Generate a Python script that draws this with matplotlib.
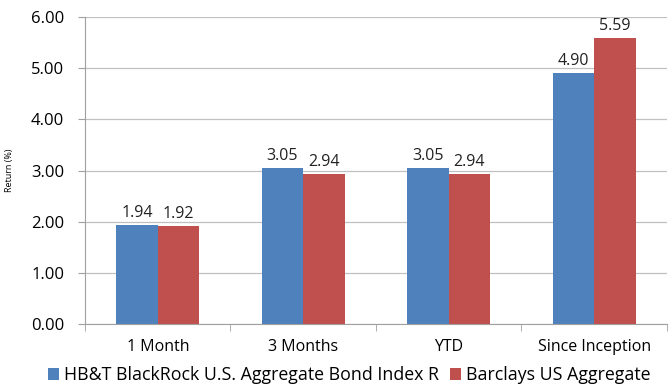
import matplotlib.pyplot as plt
import numpy as np

categories = ['1 Month', '3 Months', 'YTD', 'Since Inception']
fund = [1.94, 3.05, 3.05, 4.90]
bench = [1.92, 2.94, 2.94, 5.59]
series_names = ['HB&T BlackRock U.S. Aggregate Bond Index R', 'Barclays US Aggregate']

plt.rcParams['font.family'] = ['Open Sans', 'DejaVu Sans']

fig = plt.figure(figsize=(6.72, 3.85), dpi=100)
ax = fig.add_axes([0.1265, 0.158, 0.866, 0.798])

x = np.arange(len(categories))
w = 0.285
b1 = ax.bar(x - w / 2, fund, w, color='#4F81BD', label=series_names[0])
b2 = ax.bar(x + w / 2, bench, w, color='#C0504D', label=series_names[1])

for bars, vals in ((b1, fund), (b2, bench)):
    for r, v in zip(bars, vals):
        ax.text(r.get_x() + r.get_width() / 2, v + 0.08, f'{v:.2f}',
                ha='center', va='bottom', fontsize=11.5, color='#222222')

ax.set_xlim(-0.5, len(categories) - 0.5)
ax.set_ylim(0, 6)
ax.set_yticks(np.arange(0, 6.01, 1))
ax.set_yticklabels([f'{v:.2f}' for v in np.arange(0, 6.01, 1)], fontsize=12)
ax.yaxis.grid(True, color='#c0c0c0', lw=0.9)
ax.set_axisbelow(True)

ax.set_xticks(x)
ax.set_xticklabels(categories, fontsize=11.5)
ax.tick_params(axis='x', length=0, pad=11)
ax.set_xticks(np.arange(-0.5, len(categories)), minor=True)
ax.tick_params(axis='x', which='minor', length=5, color='#a0a0a0')
ax.tick_params(axis='y', length=5, color='#a0a0a0', pad=10)

for s in ('top', 'right'):
    ax.spines[s].set_visible(False)
ax.spines['left'].set_color('#a0a0a0')
ax.spines['bottom'].set_color('#a0a0a0')

ax.set_ylabel('Return (%)', fontsize=6.5, labelpad=12)

fig.legend(loc='lower center', bbox_to_anchor=(0.52, -0.04), ncol=2, frameon=False,
           fontsize=12.8, handlelength=0.6, handleheight=0.6, handletextpad=0.3,
           columnspacing=0.6)

fig.savefig('out.png', dpi=100)
